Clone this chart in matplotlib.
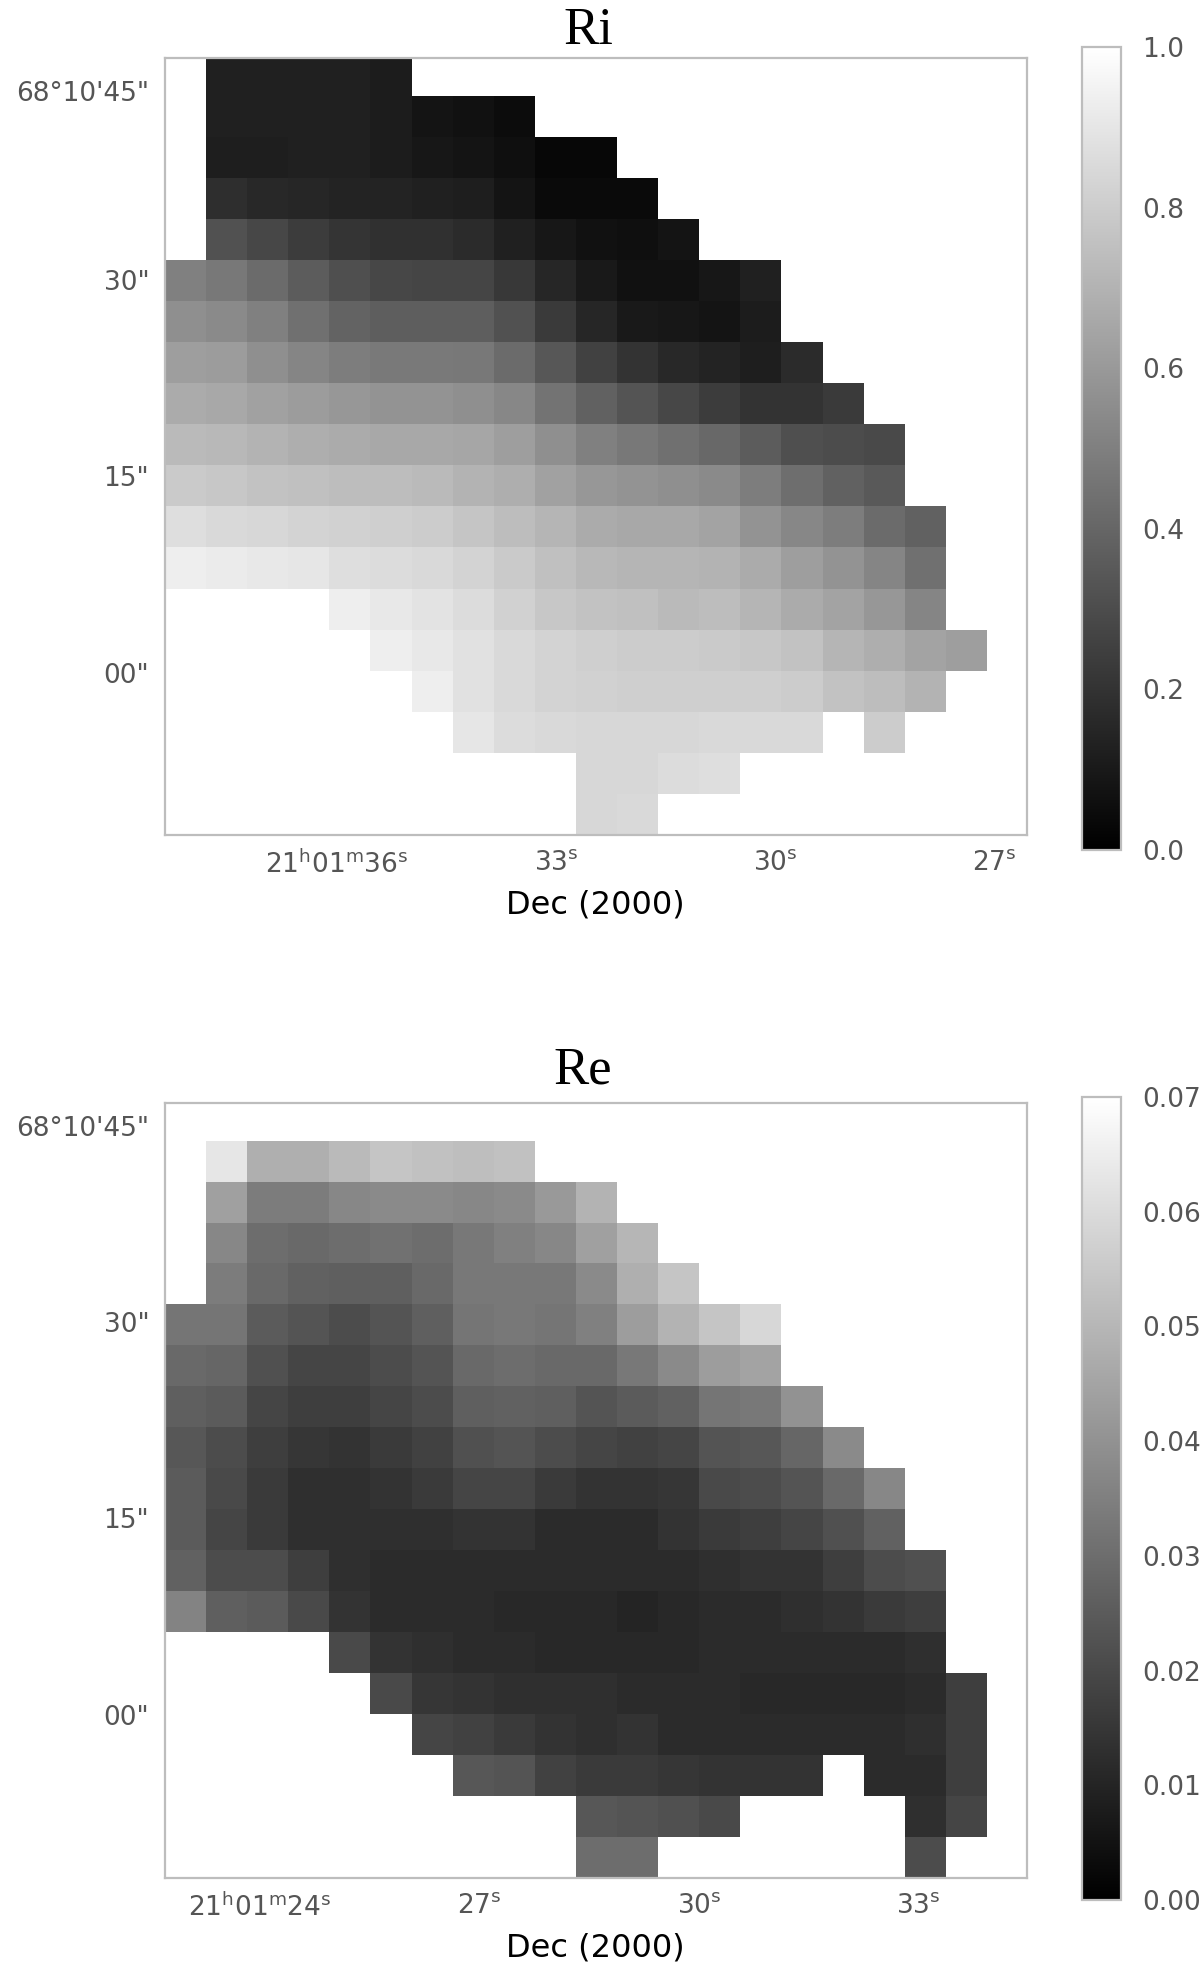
import numpy as np
import matplotlib
matplotlib.use('Agg')
import matplotlib.pyplot as plt

_ = np.nan

# Ri map, values read from the grey level of each cell
ri_rows = [
    [_, .13, .13, .13, .13, .11],
    [_, .13, .13, .13, .13, .11, .08, .07, .05],
    [_, .12, .12, .13, .13, .11, .09, .08, .06, .03, .03],
    [_, .18, .16, .15, .14, .14, .13, .12, .08, .04, .04, .04],
    [_, .32, .28, .24, .21, .19, .19, .17, .13, .09, .07, .06, .08],
    [.50, .47, .42, .36, .31, .28, .27, .27, .22, .15, .10, .07, .07, .09, .13],
    [.56, .54, .50, .44, .39, .37, .37, .37, .32, .23, .15, .10, .09, .08, .11],
    [.62, .61, .56, .52, .49, .48, .48, .47, .42, .34, .26, .20, .16, .14, .12, .17],
    [.67, .66, .63, .61, .59, .58, .58, .56, .53, .45, .38, .33, .28, .24, .20, .20, .23],
    [.73, .72, .70, .68, .67, .66, .66, .65, .62, .56, .50, .47, .44, .41, .36, .31, .30, .29],
    [.79, .78, .76, .75, .74, .74, .73, .70, .68, .63, .59, .58, .56, .54, .49, .43, .38, .35],
    [.87, .85, .84, .83, .82, .81, .80, .77, .74, .71, .67, .66, .66, .64, .58, .53, .49, .42, .38],
    [.93, .92, .91, .90, .87, .86, .85, .83, .79, .75, .72, .71, .71, .70, .67, .62, .58, .52, .44],
    [_, _, _, _, .93, .91, .89, .86, .82, .78, .76, .75, .73, .74, .71, .67, .64, .59, .52],
    [_, _, _, _, _, .93, .91, .88, .85, .83, .81, .80, .80, .79, .78, .76, .71, .68, .64, .62],
    [_, _, _, _, _, _, .93, .88, .85, .83, .82, .81, .81, .81, .81, .80, .76, .74, .70],
    [_, _, _, _, _, _, _, .90, .86, .85, .84, .84, .84, .85, .85, .85, _, .80],
    [_, _, _, _, _, _, _, _, _, _, .84, .84, .86, .87],
    [_, _, _, _, _, _, _, _, _, _, .84, .85],
]

# Re map
re_rows = [
    [],
    [_, .063, .048, .048, .051, .054, .053, .052, .053],
    [_, .044, .034, .034, .037, .038, .038, .037, .038, .042, .049],
    [_, .037, .030, .029, .030, .031, .030, .033, .035, .037, .044, .050],
    [_, .034, .029, .027, .026, .026, .029, .033, .033, .033, .038, .048, .054],
    [.032, .032, .025, .023, .021, .023, .026, .032, .033, .032, .035, .043, .049, .054, .059],
    [.029, .028, .022, .019, .019, .021, .023, .029, .030, .029, .029, .033, .038, .043, .045],
    [.026, .025, .019, .017, .017, .019, .021, .026, .027, .026, .023, .025, .027, .032, .033, .040],
    [.024, .021, .017, .015, .014, .016, .018, .022, .023, .021, .019, .018, .019, .023, .024, .028, .038],
    [.025, .020, .016, .013, .013, .014, .016, .019, .019, .016, .014, .014, .015, .020, .021, .023, .029, .037],
    [.025, .019, .016, .013, .013, .013, .013, .014, .014, .012, .012, .012, .014, .016, .017, .019, .022, .027],
    [.027, .021, .021, .017, .013, .012, .012, .012, .012, .012, .012, .012, .012, .013, .014, .014, .017, .021, .022],
    [.036, .026, .025, .020, .014, .012, .012, .012, .011, .011, .011, .010, .011, .012, .012, .013, .014, .016, .017],
    [_, _, _, _, .020, .014, .013, .012, .012, .011, .011, .011, .011, .012, .012, .012, .012, .012, .013],
    [_, _, _, _, _, .020, .015, .014, .013, .013, .013, .012, .012, .012, .011, .011, .011, .011, .012, .017],
    [_, _, _, _, _, _, .019, .018, .016, .014, .013, .014, .012, .012, .012, .012, .012, .012, .013, .017],
    [_, _, _, _, _, _, _, .024, .023, .018, .016, .016, .015, .014, .014, .014, _, .012, .012, .017],
    [_, _, _, _, _, _, _, _, _, _, .024, .023, .022, .020, _, _, _, _, .013, .019],
    [_, _, _, _, _, _, _, _, _, _, .030, .030, _, _, _, _, _, _, .021],
]

ri_xticklabels = ['21$^{\\mathrm{h}}$01$^{\\mathrm{m}}$36$^{\\mathrm{s}}$',
                  '33$^{\\mathrm{s}}$', '30$^{\\mathrm{s}}$', '27$^{\\mathrm{s}}$']
re_xticklabels = ['21$^{\\mathrm{h}}$01$^{\\mathrm{m}}$24$^{\\mathrm{s}}$',
                  '27$^{\\mathrm{s}}$', '30$^{\\mathrm{s}}$', '33$^{\\mathrm{s}}$']
yticklabels = ['68°10\'45"', '30"', '15"', '00"']
ri_cbar_ticks = [0.0, 0.2, 0.4, 0.6, 0.8, 1.0]
re_cbar_ticks = [0.00, 0.01, 0.02, 0.03, 0.04, 0.05, 0.06, 0.07]

W, H = 1200, 1978
FRAME = '#bdbdbd'
TICK = '#555555'


def pixel_axes(fig, left, right, top, bottom):
    return fig.add_axes([left / W, 1 - bottom / H, (right - left) / W, (bottom - top) / H])


def to_grid(rows):
    grid = np.full((19, 21), np.nan)
    for i, row in enumerate(rows):
        grid[i, :len(row)] = row
    return grid


def draw_panel(fig, rows, title, title_x, top, bottom, xticks, xlabels, yticks,
               vmax, cbar_ticks, cbar_fmt, cb_top, cb_bottom, title_y):
    ax = pixel_axes(fig, 164.5, 1027, top, bottom)
    im = ax.imshow(to_grid(rows), cmap='gray', vmin=0, vmax=vmax, aspect='auto',
                   interpolation='nearest')
    ax.set_xlim(-0.5, 20.5)
    ax.set_ylim(18.5, -0.42)
    ax.set_xticks(xticks)
    ax.set_xticklabels(xlabels)
    ax.set_yticks(yticks)
    ax.set_yticklabels(yticklabels)
    ax.tick_params(length=0, labelsize=19, labelcolor=TICK, pad=11)
    ax.set_xlabel('Dec (2000)', fontsize=23, labelpad=8, color='black')
    for s in ax.spines.values():
        s.set_color(FRAME)
        s.set_linewidth(1.6)
    fig.text(title_x / W, 1 - title_y / H, title, family=['Liberation Serif'], fontsize=38,
             ha='center', va='baseline', color='black')

    cax = pixel_axes(fig, 1082, 1121, cb_top, cb_bottom)
    cb = fig.colorbar(im, cax=cax)
    cb.set_ticks(cbar_ticks)
    cb.set_ticklabels([cbar_fmt % t for t in cbar_ticks])
    cax.tick_params(length=0, labelsize=19, labelcolor=TICK, pad=15)
    cb.outline.set_edgecolor(FRAME)
    cb.outline.set_linewidth(1.6)


fig = plt.figure(figsize=(W / 100, H / 100), dpi=100, facecolor='white')

draw_panel(fig, ri_rows, 'Ri', 588, 58.5, 835, [3.69, 9.03, 14.37, 19.71], ri_xticklabels,
           [0.37, 4.98, 9.76, 14.56], 1.0, ri_cbar_ticks, '%.1f', 47, 850, 44)
draw_panel(fig, re_rows, 'Re', 583, 1103, 1878, [1.83, 7.17, 12.51, 17.85], re_xticklabels,
           [0.13, 4.92, 9.72, 14.52], 0.07, re_cbar_ticks, '%.2f', 1097, 1900, 1083)

fig.savefig('out.png', dpi=100)
